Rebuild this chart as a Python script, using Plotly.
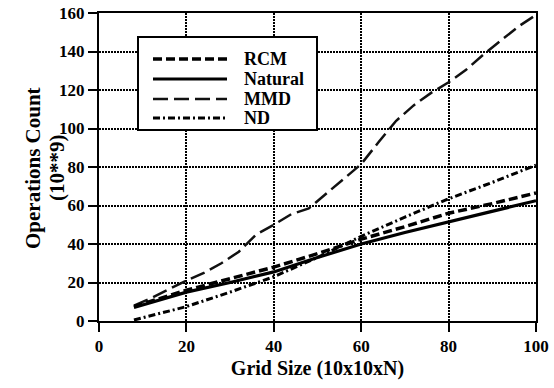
import plotly.graph_objects as go

# ---- data ----
size_mmd = [8, 12, 16, 20, 24, 28, 32, 36, 40, 44, 48, 52, 56, 60, 64, 68, 72, 76, 80, 84, 88, 92, 96, 100]
mmd = [8, 12, 16.5, 21, 25, 30, 36, 45, 50, 55.5, 58.5, 66, 74, 81.5, 93, 104, 112, 118.5, 124, 130.5, 138.5, 146, 153, 159]

size = [8, 20, 30, 40, 50, 60, 70, 80, 90, 100]
natural = [7, 15, 20, 25.5, 33, 40, 46, 51.5, 57, 62.5]
rcm = [7.5, 16, 22, 28, 35, 42.5, 49, 56, 61, 66.5]
nd = [0.5, 7.5, 15, 23, 33, 44, 54, 63.5, 72, 81]

x_ticks = [0, 20, 40, 60, 80, 100]
y_ticks = [0, 20, 40, 60, 80, 100, 120, 140, 160]

series_names = ["RCM", "Natural", "MMD", "ND"]
y_title_lines = ["Operations Count", "(10**9)"]
x_title = "Grid Size (10x10xN)"

FONT = "Liberation Serif, Times New Roman, serif"
styles = {
    "RCM": dict(color="black", width=3.5, dash="9px,4px"),
    "Natural": dict(color="black", width=3.2),
    "MMD": dict(color="#111", width=2.5, dash="15px,6px"),
    "ND": dict(color="black", width=3, dash="7px,3px,2px,3px"),
}

fig = go.Figure()
fig.add_trace(go.Scatter(x=size_mmd, y=mmd, mode="lines", name="MMD", line=styles["MMD"], showlegend=False))
fig.add_trace(go.Scatter(x=size, y=nd, mode="lines", name="ND", line=styles["ND"], showlegend=False))
fig.add_trace(go.Scatter(x=size, y=rcm, mode="lines", name="RCM", line=styles["RCM"], showlegend=False))
fig.add_trace(go.Scatter(x=size, y=natural, mode="lines", name="Natural", line=styles["Natural"], showlegend=False))

# ---- pixel layout helpers (converted to paper coords) ----
L, R, T, B = 99, 536, 13, 321
W, H = R - L, B - T
def px(x):
    return (x - L) / W
def py(y):
    return (B - y) / H

# ---- manual legend box ----
fig.add_shape(type="rect", xref="paper", yref="paper",
              x0=px(138), x1=px(317), y0=py(130), y1=py(37),
              line=dict(color="black", width=2), fillcolor="white", layer="above")
for i, name in enumerate(series_names):
    yy = [59, 79, 99, 118][i]
    st = styles[name]
    fig.add_shape(type="line", xref="paper", yref="paper",
                  x0=px(153), x1=px(227), y0=py(yy), y1=py(yy),
                  line=dict(color=st["color"], width=st["width"], dash=st.get("dash", "solid")),
                  layer="above")
    fig.add_annotation(xref="paper", yref="paper", x=px(243), y=py(yy),
                       text=name, showarrow=False, xanchor="left", yanchor="middle",
                       height=18, borderpad=0,
                       font=dict(family=FONT, size=18, color="black", weight="bold"))

# ---- y-axis title as two rotated lines ----
for xc, txt in zip([33, 57], y_title_lines):
    fig.add_annotation(xref="paper", yref="paper", x=px(xc), y=py(168),
                       text=txt, textangle=-90, showarrow=False,
                       xanchor="center", yanchor="middle", borderpad=0,
                       font=dict(family=FONT, size=21, color="black", weight="bold"))

axis_common = dict(
    showline=True, linecolor="black", linewidth=2, mirror=True,
    showgrid=True, gridcolor="black", gridwidth=1.5, griddash="2px,1px",
    ticks="outside", ticklen=9, tickwidth=2, tickcolor="black",
    zeroline=False, automargin=False,
    tickfont=dict(family=FONT, size=17, color="black", weight="bold"),
)

fig.update_xaxes(range=[0, 100], tickvals=x_ticks, **axis_common,
                 title=dict(text=x_title, standoff=6,
                            font=dict(family=FONT, size=20, color="black", weight="bold")))
fig.update_yaxes(range=[0, 160], tickvals=y_ticks, **axis_common)

fig.update_layout(
    width=554, height=388,
    margin=dict(l=L, r=554 - R, t=T, b=388 - B),
    paper_bgcolor="white", plot_bgcolor="white",
    showlegend=False,
)

fig.write_html("out.html", config={"displayModeBar": False},
               post_script="document.body.style.margin='0';document.body.style.overflow='hidden';")
